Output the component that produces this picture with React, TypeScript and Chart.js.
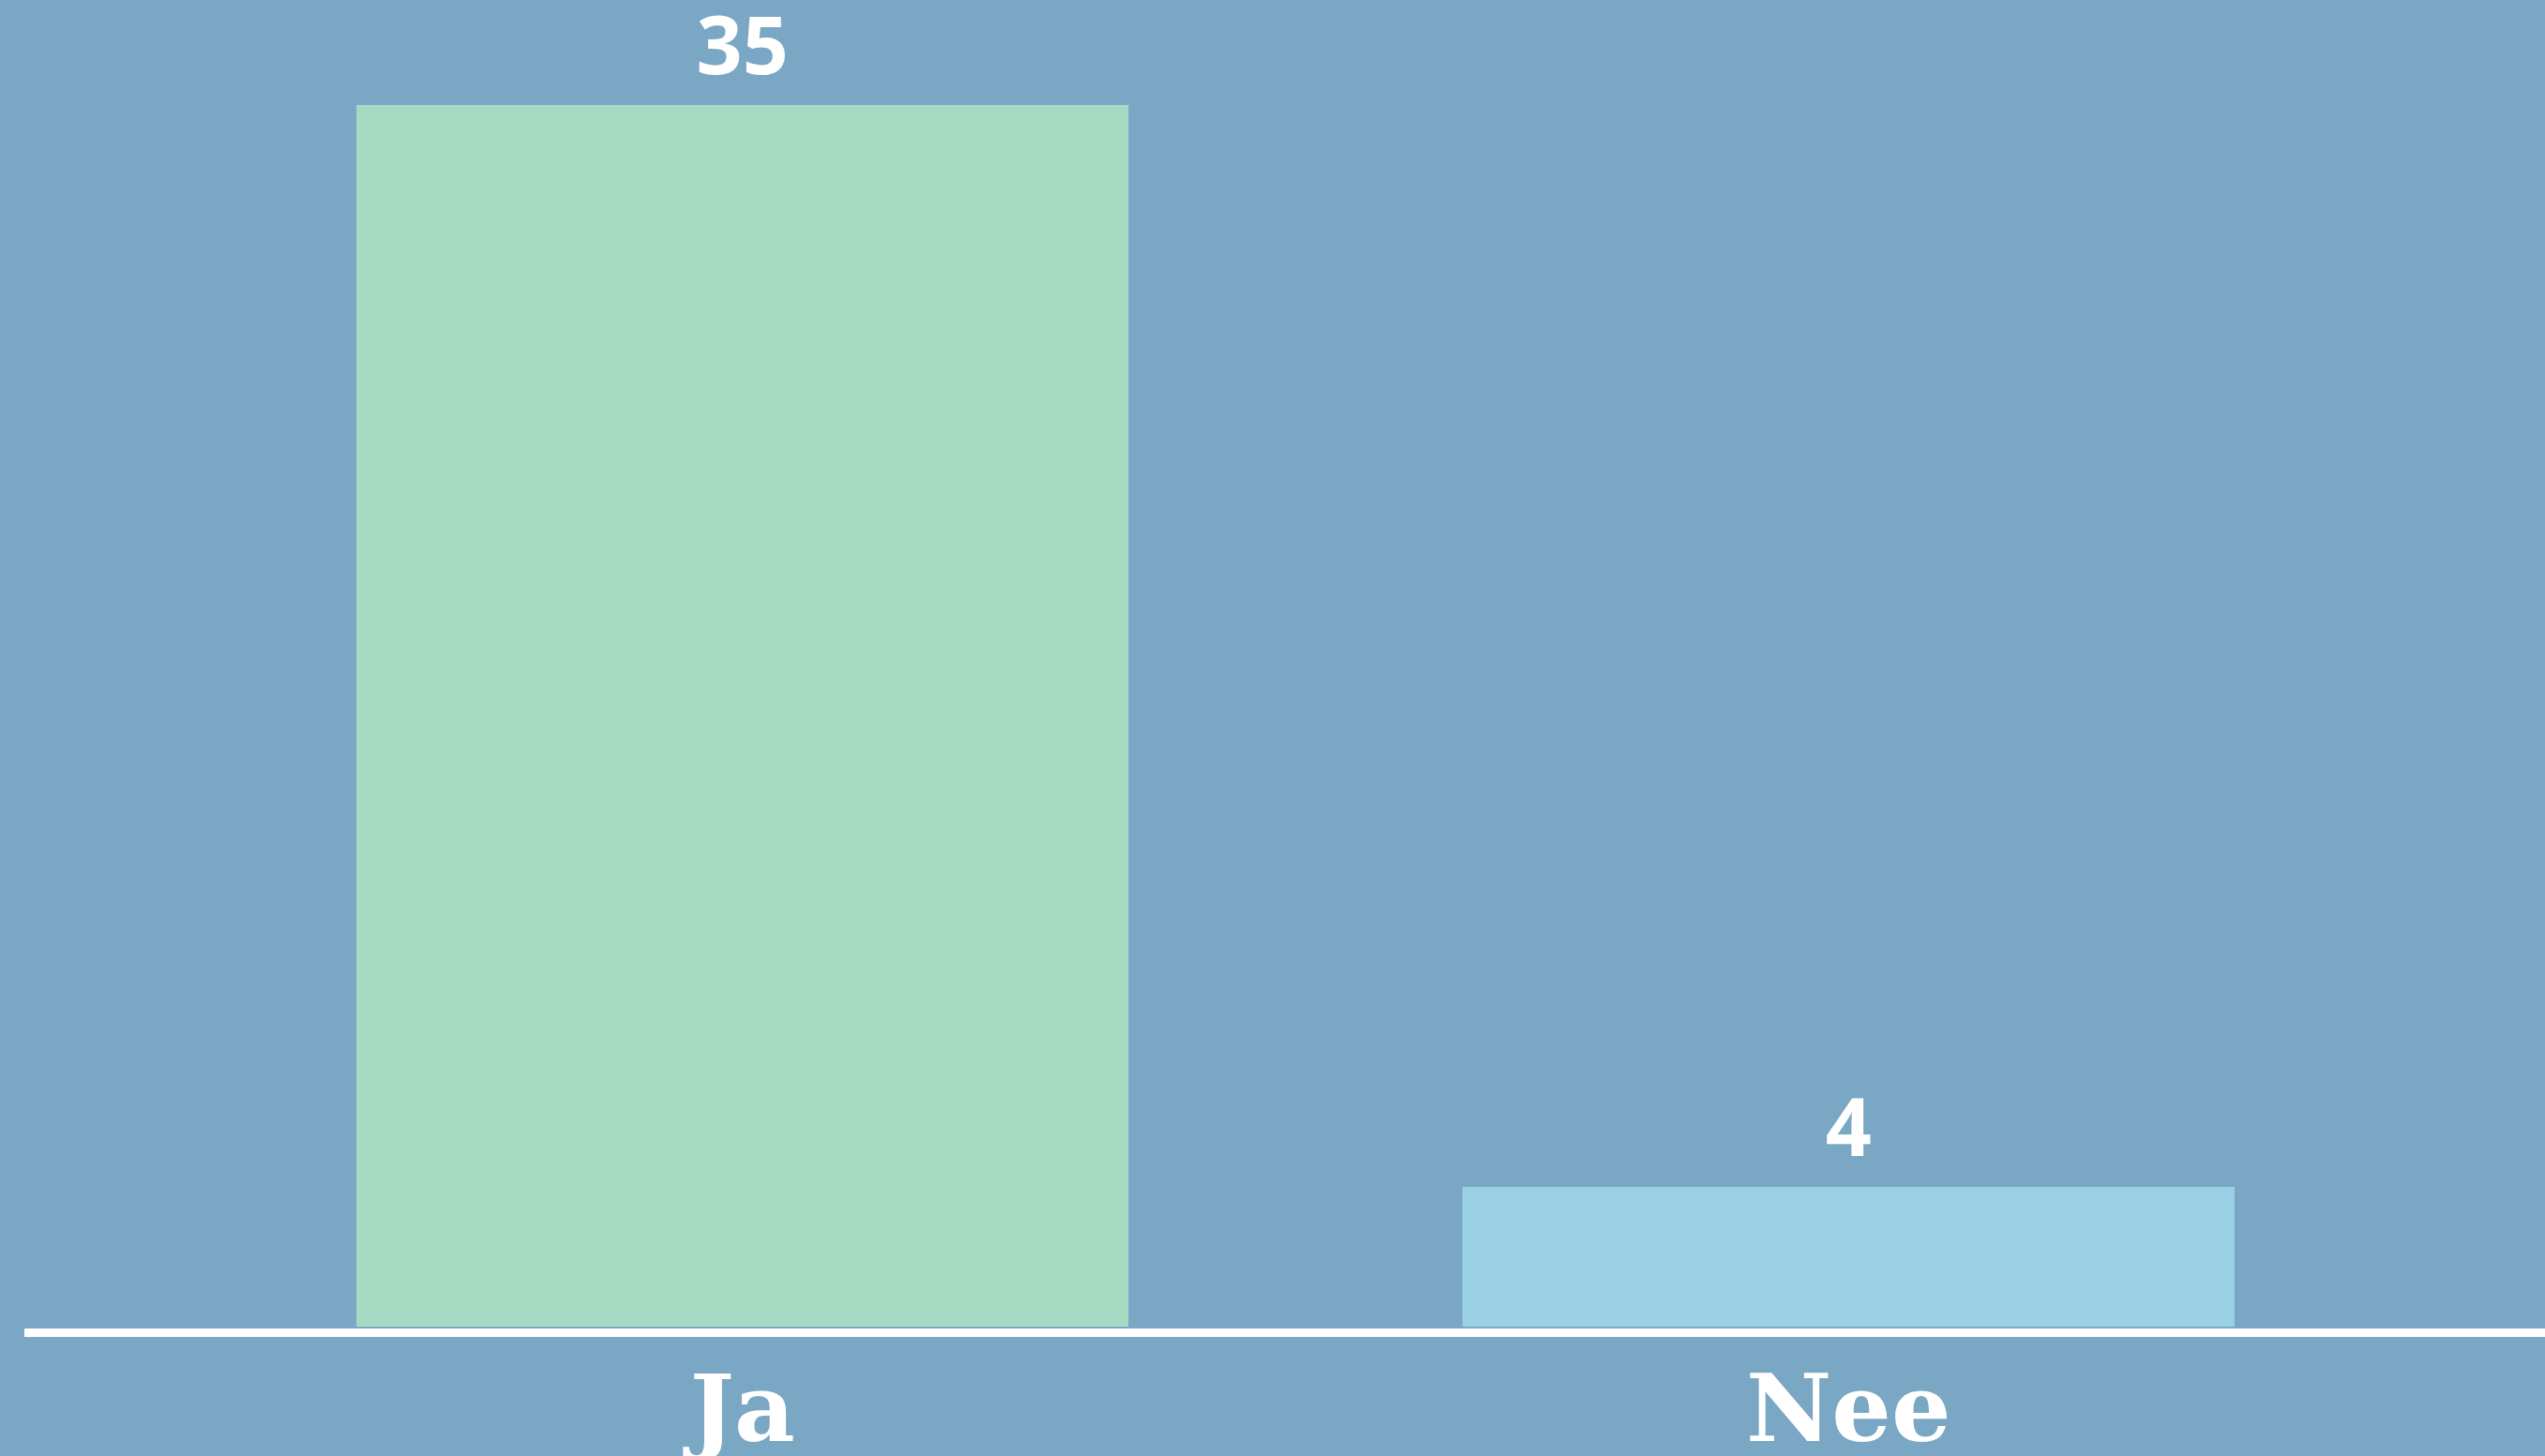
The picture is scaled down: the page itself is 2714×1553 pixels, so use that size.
import React, { useEffect, useRef } from "react";
import { Chart, registerables } from "chart.js";

Chart.register(...registerables);

const categories = ["Ja", "Nee"];
const values = [35, 4];
const barColors = ["#A6DBC3", "#9BD1E5"];
const valueLabels = ["35", "4"];

const BG = "#7AA7C3";
const W = 2714;
const H = 1553;

const overlayPlugin = {
  id: "overlay",
  beforeDraw(chart: any) {
    const ctx = chart.ctx;
    ctx.save();
    ctx.fillStyle = BG;
    ctx.fillRect(0, 0, chart.width, chart.height);
    ctx.restore();
  },
  afterDatasetsDraw(chart: any) {
    const ctx = chart.ctx;
    const xs = chart.scales.x;
    const ys = chart.scales.y;
    const base = ys.getPixelForValue(0);
    ctx.save();
    // baseline
    ctx.fillStyle = "#FFFFFF";
    ctx.fillRect(26, base + 2, chart.width - 26, 9);
    // category labels
    ctx.fillStyle = "#FFFFFF";
    ctx.textAlign = "center";
    ctx.textBaseline = "alphabetic";
    ctx.font = "bold 100px 'DejaVu Serif', serif";
    categories.forEach((c, i) => {
      ctx.fillText(c, xs.getPixelForValue(i), base + 122);
    });
    // value labels
    ctx.font = "bold 86px 'Open Sans', sans-serif";
    values.forEach((v, i) => {
      ctx.fillText(valueLabels[i], xs.getPixelForValue(i), ys.getPixelForValue(v) - 33);
    });
    ctx.restore();
  },
};

export default function App() {
  const ref = useRef<HTMLCanvasElement | null>(null);
  useEffect(() => {
    document.body.style.margin = "0";
    document.body.style.background = BG;
    const chart = new Chart(ref.current as HTMLCanvasElement, {
      type: "bar",
      data: {
        labels: categories,
        datasets: [
          {
            data: values,
            backgroundColor: barColors,
            borderWidth: 0,
            barPercentage: 0.698,
            categoryPercentage: 1,
          },
        ],
      },
      options: {
        responsive: false,
        animation: false,
        devicePixelRatio: 1,
        layout: { padding: { left: 202, right: 153, top: 112, bottom: 138 } },
        plugins: { legend: { display: false }, tooltip: { enabled: false } },
        scales: {
          x: { display: false },
          y: { display: false, min: 0, max: 35 },
        },
      },
      plugins: [overlayPlugin],
    });
    return () => chart.destroy();
  }, []);
  return (
    <div style={{ position: "absolute", left: 0, top: 0, width: W, height: H }}>
      <canvas ref={ref} width={W} height={H} style={{ display: "block" }} />
    </div>
  );
}
